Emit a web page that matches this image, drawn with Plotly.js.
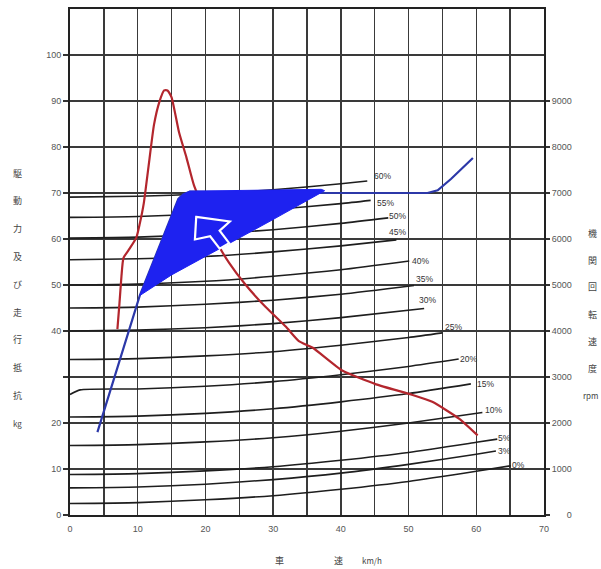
<!DOCTYPE html>
<html>
<head>
<meta charset="utf-8">
<script src="https://cdn.plot.ly/plotly-3.0.1.min.js"></script>
<style>html,body{margin:0;padding:0;background:#fff;}#chart{width:601px;height:569px;}</style>
</head>
<body>
<div id="chart"></div>
<script>
// ---- Data (speed km/h, force kg, engine rpm) ----
const gradeLabels = ['60%','55%','50%','45%','40%','35%','30%','25%','20%','15%','10%','5%','3%','0%'];

const g60x = [0, 10, 20, 30, 40, 43.9];
const g60y = [69.1, 69.3, 69.8, 70.7, 72.0, 72.6];
const g55x = [0, 10, 20, 30, 40, 44.4];
const g55y = [64.7, 64.9, 65.5, 66.4, 67.7, 68.4];
const g50x = [0, 10, 20, 30, 40, 47.0];
const g50y = [60.2, 60.4, 61.0, 62.0, 63.4, 64.6];
const g45x = [0, 10, 20, 30, 40, 48.2];
const g45y = [55.5, 55.7, 56.2, 57.2, 58.5, 59.8];
const g40x = [0, 10, 20, 30, 40, 50.1];
const g40y = [50.0, 50.2, 50.8, 51.9, 53.3, 55.2];
const g35x = [0, 10, 20, 30, 40, 50.8];
const g35y = [45.0, 45.2, 45.8, 46.7, 48.0, 49.9];
const g30x = [0, 10, 20, 30, 40, 52.3];
const g30y = [40.0, 40.2, 40.7, 41.6, 42.9, 44.9];
const g25x = [0, 10, 20, 30, 40, 50, 55.0];
const g25y = [33.8, 34.0, 34.6, 35.5, 36.9, 38.6, 39.6];
const g20x = [0, 1.5, 10, 20, 30, 40, 50, 57.4];
const g20y = [26.2, 27.2, 27.4, 28.0, 29.0, 30.5, 32.3, 33.9];
const g15x = [0, 10, 20, 30, 40, 50, 59.2];
const g15y = [21.3, 21.5, 22.1, 23.1, 24.6, 26.4, 28.5];
const g10x = [0, 10, 20, 30, 40, 50, 60.9];
const g10y = [15.1, 15.3, 15.9, 16.8, 18.2, 20.0, 22.3];
const g5x = [0, 10, 20, 30, 40, 50, 60, 63.1];
const g5y = [8.8, 9.0, 9.6, 10.5, 11.9, 13.6, 15.8, 16.5];
const g3x = [0, 10, 20, 30, 40, 50, 60, 62.9];
const g3y = [5.9, 6.1, 6.7, 7.7, 9.1, 11.0, 13.2, 13.9];
const g0x = [0, 10, 20, 30, 40, 50, 60, 65.1];
const g0y = [2.5, 2.7, 3.3, 4.2, 5.6, 7.3, 9.5, 10.7];

// driving force (kg)
const driveSpeed = [7.0, 7.3, 7.6, 7.9, 8.8, 9.8, 10.3, 10.9, 11.6, 12.4, 13.2, 13.9, 14.4, 15.0, 16.1, 17.2, 18.3, 20.0, 22.0, 23.5, 25.9, 28.9, 31.9, 33.8, 35.8, 40.2, 45.2, 50.6, 53.5, 57.5, 60.2];
const driveForce = [40.4, 45.9, 51.9, 55.9, 57.9, 60.3, 63.3, 67.8, 75.8, 84.8, 89.8, 92.3, 92.3, 90.8, 83.2, 77.7, 71.7, 65.5, 58.5, 54.8, 50.1, 45.2, 40.9, 37.8, 36.4, 31.4, 28.4, 26.1, 24.6, 20.9, 17.3];

// engine speed (rpm)
const rpmSpeed = [4.05, 10.3, 16.0, 16.7, 17.7, 37.6, 52.8, 54.3, 56.3, 59.5];
const rpmValue = [1800, 4770, 6870, 6970, 7030, 7000, 7000, 7060, 7310, 7760];

// shaded engine-speed zone (rpm)
const zoneSpeed = [10.3, 16.0, 16.7, 17.7, 37.1, 37.6, 29.7, 21.4, 15.0, 10.3];
const zoneRpm   = [4770, 6870, 6970, 7040, 7080, 7050, 6400, 5730, 5220, 4770];

// axis ticks
const xTickVals = [0, 10, 20, 30, 40, 50, 60, 70];
const yTickVals = [0, 10, 20, 30, 40, 50, 60, 70, 80, 90, 100];
const yTickText = ['0', '10', '20', '', '40', '50', '60', '70', '80', '90', '100'];
const rpmTickVals = [0, 1000, 2000, 3000, 4000, 5000, 6000, 7000, 8000, 9000];
const rpmTickText = ['\u2007\u2007\u20070', '1000', '2000', '3000', '4000', '5000', '6000', '7000', '8000', '9000'];

// texts
const leftTitle = ['駆', '動', '力', '及', 'び', '走', '行', '抵', '抗', 'kg'];
const rightTitle = ['機', '関', '回', '転', '速', '度', 'rpm'];
const bottomTitle = ['車', '速', 'km/h'];

// ---- layout constants (positions only) ----
const labelPos = [[46.1,73.6],[46.6,67.8],[48.3,64.9],[48.3,61.6],[51.8,55.2],[52.3,51.4],[52.8,46.7],[56.6,40.8],[58.9,33.9],[61.4,28.4],[62.6,22.9],[64.1,16.7],[64.1,14.0],[66.3,10.9]];
const PL = 70, PR = 544, PT = 9, PB = 515;
const px2paperX = p => (p - PL) / (PR - PL);
const px2paperY = p => (PB - p) / (PB - PT);

const gx = [g60x, g55x, g50x, g45x, g40x, g35x, g30x, g25x, g20x, g15x, g10x, g5x, g3x, g0x];
const gy = [g60y, g55y, g50y, g45y, g40y, g35y, g30y, g25y, g20y, g15y, g10y, g5y, g3y, g0y];

const traces = [];
gx.forEach((xs, i) => {
  traces.push({
    x: xs, y: gy[i], type: 'scatter', mode: 'lines', name: gradeLabels[i],
    line: {color: '#1e1e1e', width: 1.6, shape: 'spline', smoothing: 0.6},
    hoverinfo: 'skip', showlegend: false
  });
});
traces.push({
  x: driveSpeed, y: driveForce, type: 'scatter', mode: 'lines',
  line: {color: '#b3262d', width: 2.2, shape: 'spline', smoothing: 0.5},
  showlegend: false
});
traces.push({
  x: rpmSpeed, y: rpmValue, yaxis: 'y2', type: 'scatter', mode: 'lines',
  line: {color: '#2c38a8', width: 2.2},
  showlegend: false
});
traces.push({
  x: zoneSpeed, y: zoneRpm, yaxis: 'y2', type: 'scatter', mode: 'lines',
  fill: 'toself', fillcolor: '#1e22f0', line: {color: '#1e22f0', width: 1},
  showlegend: false
});

const annotations = [];
gradeLabels.forEach((t, i) => {
  annotations.push({x: labelPos[i][0], y: labelPos[i][1], xref: 'x', yref: 'y', text: t,
    showarrow: false, xanchor: 'center', yanchor: 'middle',
    font: {family: 'Liberation Sans, sans-serif', size: 8.5, color: '#333'}});
});
const cjk = 'Noto Sans CJK JP, sans-serif';
leftTitle.forEach((t, i) => {
  annotations.push({x: px2paperX(17), y: px2paperY(173 + i * 27.8), xref: 'paper', yref: 'paper',
    text: t, showarrow: false, xanchor: 'center', yanchor: 'middle',
    font: {family: cjk, size: t.length > 1 ? 8 : 9, color: '#444'}});
});
rightTitle.forEach((t, i) => {
  annotations.push({x: px2paperX(t.length > 1 ? 590 : 592), y: px2paperY(233 + i * 27), xref: 'paper', yref: 'paper',
    text: t, showarrow: false, xanchor: 'center', yanchor: 'middle',
    font: {family: cjk, size: t.length > 1 ? 8 : 9, color: '#444'}});
});
const bottomPx = [279, 338, 372];
bottomTitle.forEach((t, i) => {
  annotations.push({x: px2paperX(bottomPx[i]), y: px2paperY(560), xref: 'paper', yref: 'paper',
    text: t, showarrow: false, xanchor: 'center', yanchor: 'middle',
    font: {family: cjk, size: t.length > 1 ? 8 : 9, color: '#444'}});
});

const gridC = '#3a3a3a';
const layout = {
  width: 601, height: 569,
  margin: {l: PL, r: 601 - PR, t: PT, b: 569 - PB, pad: 0},
  paper_bgcolor: '#ffffff', plot_bgcolor: '#ffffff',
  showlegend: false,
  font: {family: 'Liberation Sans, sans-serif', size: 9, color: '#555'},
  xaxis: {
    range: [0, 70], tickvals: xTickVals, ticktext: xTickVals.map(String),
    showgrid: true, gridcolor: gridC, gridwidth: 1.4,
    minor: {dtick: 5, tick0: 0, showgrid: true, gridcolor: gridC, gridwidth: 1.4, ticks: ''},
    showline: true, linecolor: '#222', linewidth: 2, mirror: true,
    zeroline: false, ticks: '', ticklabelstandoff: 4,
    tickfont: {family: 'Liberation Sans, sans-serif', size: 9, color: '#555'}
  },
  yaxis: {
    range: [0, 110], tickvals: yTickVals, ticktext: yTickText,
    showgrid: true, gridcolor: gridC, gridwidth: 1.4,
    showline: true, linecolor: '#222', linewidth: 2,
    zeroline: false, ticks: 'outside', ticklen: 5, tickwidth: 1.2, tickcolor: '#333',
    tickfont: {family: 'Liberation Sans, sans-serif', size: 9, color: '#555'}
  },
  yaxis2: {
    overlaying: 'y', side: 'right', range: [0, 11000],
    tickvals: rpmTickVals, ticktext: rpmTickText,
    showgrid: false, showline: true, linecolor: '#222', linewidth: 2,
    zeroline: false, ticks: 'outside', ticklen: 4, tickwidth: 1.2, tickcolor: '#333',
    tickfont: {family: 'Liberation Sans, sans-serif', size: 9, color: '#555'}
  },
  shapes: [{
    type: 'path', xref: 'x', yref: 'y', layer: 'above',
    path: 'M 18.64,64.8 L 23.6,63.8 L 22.1,61.8 L 23.5,59.1 L 22.1,57.9 L 20.7,60.6 L 18.45,59.9 Z',
    fillcolor: '#1e22f0', line: {color: '#ffffff', width: 2.2}
  }],
  annotations: annotations
};

Plotly.newPlot('chart', traces, layout, {displayModeBar: false, staticPlot: true});
</script>
</body>
</html>
